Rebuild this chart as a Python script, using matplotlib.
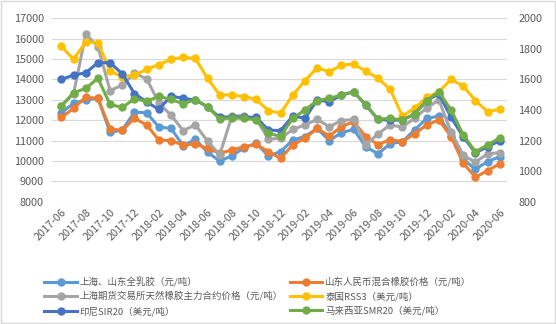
import matplotlib
matplotlib.use("Agg")
import matplotlib.pyplot as plt
import numpy as np
from matplotlib.patches import Rectangle

plt.rcParams["font.family"] = ["Noto Sans CJK SC", "DejaVu Sans"]

# 2017-06 .. 2020-06, monthly
months = [f"{y}-{m:02d}" for y in (2017, 2018, 2019, 2020) for m in range(1, 13)]
months = months[months.index("2017-06"):months.index("2020-06") + 1]

# left axis, 元/吨
sh_latex = [12370, 12820, 13000, 13080, 11400, 11520, 12400, 12360, 11670, 11600,
            10750, 11060, 10430, 10000, 10250, 10650, 10870, 10250, 10460, 11030,
            11200, 11600, 11000, 11390, 11550, 10700, 10350, 10850, 10950, 11520,
            12090, 12200, 11250, 10080, 9600, 9970, 10220]
sd_mix = [12140, 12580, 13130, 13070, 11570, 11500, 12090, 11770, 11030, 11000,
          10780, 10840, 10620, 10380, 10540, 10700, 10820, 10460, 10130, 10790,
          11110, 11600, 11230, 11680, 11930, 11200, 10800, 11050, 10950, 11330,
          11770, 12010, 11200, 9890, 9210, 9530, 9870]
shfe = [12700, 13300, 16220, 15600, 13450, 13720, 14300, 14030, 12850, 12250,
        11490, 11770, 10980, 10300, 12200, 12230, 12050, 11080, 11110, 11550,
        11770, 12040, 11680, 11980, 12040, 10790, 11330, 11770, 11660, 12100,
        12600, 12990, 11420, 10280, 9950, 10350, 10410]

# right axis, 美元/吨
rss3 = [1817, 1731, 1845, 1840, 1655, 1617, 1628, 1665, 1697, 1731,
        1744, 1737, 1607, 1498, 1498, 1487, 1469, 1395, 1379, 1498,
        1591, 1676, 1650, 1693, 1700, 1654, 1607, 1535, 1361, 1411,
        1483, 1519, 1600, 1556, 1461, 1389, 1404]
sir20 = [1600, 1628, 1643, 1709, 1709, 1636, 1507, 1453, 1404, 1491,
         1476, 1465, 1421, 1352, 1356, 1352, 1352, 1269, 1265, 1361,
         1346, 1465, 1454, 1498, 1519, 1433, 1339, 1333, 1335, 1373,
         1461, 1507, 1352, 1225, 1120, 1160, 1200]
smr20 = [1427, 1513, 1541, 1607, 1436, 1417, 1473, 1457, 1489, 1469,
         1441, 1468, 1421, 1341, 1349, 1345, 1337, 1248, 1228, 1346,
         1400, 1461, 1476, 1498, 1519, 1433, 1339, 1346, 1335, 1373,
         1461, 1519, 1400, 1237, 1128, 1171, 1219]

names = ["上海、山东全乳胶（元/吨）", "山东人民币混合橡胶价格（元/吨）",
         "上海期货交易所天然橡胶主力合约价格（元/吨）", "泰国RSS3（美元/吨）",
         "印尼SIR20（美元/吨）", "马来西亚SMR20（美元/吨）"]
colors = ["#5B9BD5", "#ED7D31", "#A5A5A5", "#FFC000", "#4472C4", "#70AD47"]

x = np.arange(len(months))
txt = "#595959"

fig = plt.figure(figsize=(5.56, 3.24), dpi=100)
ax = fig.add_axes([0.094, 0.377, 0.818, 0.567])
ax2 = ax.twinx()

style = dict(lw=2.2, marker="o", ms=5)
lines = []
for ys, c, n in zip([sh_latex, sd_mix, shfe], colors[:3], names[:3]):
    lines += ax.plot(x, ys, color=c, label=n, **style)
for ys, c, n in zip([rss3, sir20, smr20], colors[3:], names[3:]):
    lines += ax2.plot(x, ys, color=c, label=n, **style)

ax.set_ylim(8000, 17000)
ax.set_yticks(range(8000, 17001, 1000))
ax2.set_ylim(800, 2000)
ax2.set_yticks(range(800, 2001, 200))
ax.set_xlim(-0.75, 36.6)
ax.set_xticks(x[::2])
ax.set_xticklabels(months[::2], rotation=45, ha="right", va="top",
                   rotation_mode="anchor")
ax.grid(axis="y", color="#d9d9d9", lw=0.8)
ax.set_axisbelow(True)

for a in (ax, ax2):
    for s in a.spines.values():
        s.set_visible(False)
    a.tick_params(length=0, labelsize=7.8, colors=txt)
ax.tick_params(axis="x", pad=4)
ax.tick_params(axis="y", pad=6)
ax2.tick_params(axis="y", pad=8)

order = [0, 2, 4, 1, 3, 5]
fig.legend([lines[i] for i in order], [names[i] for i in order], ncol=2,
           loc="upper left", bbox_to_anchor=(0.08, 0.145), frameon=False,
           fontsize=6.8, handlelength=3.4, handletextpad=0.3,
           columnspacing=0.8, labelspacing=0.5, borderaxespad=0,
           borderpad=0, labelcolor=txt)

fig.patches.append(Rectangle((0.001, 0.002), 0.997, 0.995, transform=fig.transFigure,
                             fill=False, ec="#d9d9d9", lw=1))

fig.savefig("out.png", dpi=100)
